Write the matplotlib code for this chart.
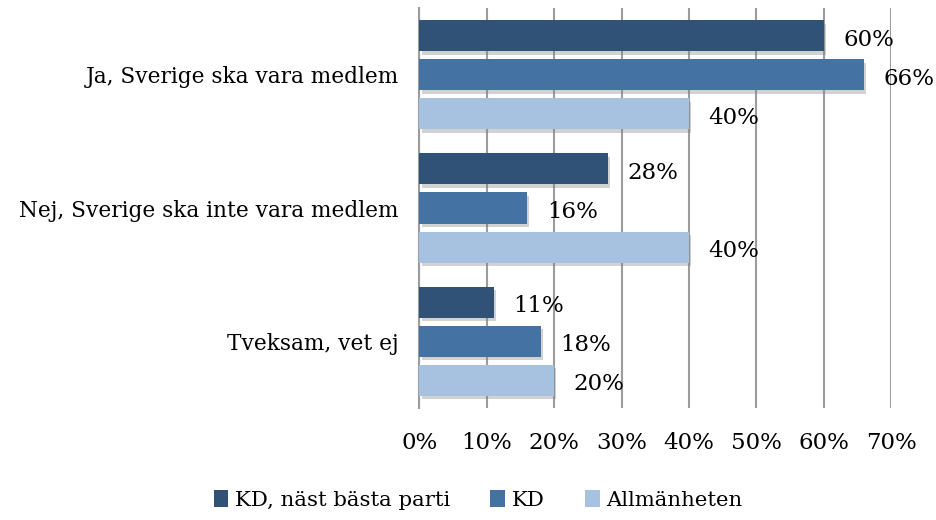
import numpy as np
import matplotlib
matplotlib.use('Agg')
import matplotlib.pyplot as plt
import matplotlib.patheffects as pe
from matplotlib.patches import Patch

plt.rcParams['font.family'] = ['DejaVu Serif']

FIGURE_XSIZE = 9.37
FIGURE_YSIZE = 5.2
GRID_RGB = '#9C9C9C'
LABEL_SIZE = 15.6
VALUE_SIZE = 16.5
LEGEND_SIZE = 15.3

categories = ['Ja, Sverige ska vara medlem',
              'Nej, Sverige ska inte vara medlem',
              'Tveksam, vet ej']
series_names = ['KD, näst bästa parti', 'KD', 'Allmänheten']
series_values = [[60, 28, 11],
                 [66, 16, 18],
                 [40, 40, 20]]
series_colors = ['#2F5276', '#4472A2', '#A7C1E0']
x_ticks = [0, 10, 20, 30, 40, 50, 60, 70]

figure = plt.figure(figsize=(FIGURE_XSIZE, FIGURE_YSIZE), dpi=100)
axes = figure.add_axes([419.5 / 937, 1 - 408 / 520, (891 - 419.5) / 937, 400 / 520])

bar_height = 0.233
step = 0.293
y_pos = np.arange(len(categories))
shadow = [pe.SimplePatchShadow(offset=(1.5, -2.5), shadow_rgbFace='#808080', alpha=0.35), pe.Normal()]

for i, (name, values, color) in enumerate(zip(series_names, series_values, series_colors)):
    ys = y_pos + (i - 1) * step
    bars = axes.barh(ys, values, height=bar_height, color=color, label=name, zorder=3)
    for b in bars:
        b.set_path_effects(shadow)
    for y, v in zip(ys, values):
        axes.text(v + 2.9, y + 0.03, '%d%%' % v, va='center', ha='left',
                  fontsize=VALUE_SIZE, zorder=4)

axes.set_xlim(0, 70)
axes.set_ylim(2.5, -0.5)
axes.set_xticks(x_ticks)
axes.set_xticklabels(['%d%%' % t for t in x_ticks], fontsize=VALUE_SIZE)
axes.set_yticks(y_pos)
axes.set_yticklabels(categories, fontsize=LABEL_SIZE)
axes.tick_params(axis='both', length=0)
axes.tick_params(axis='x', pad=17)
axes.tick_params(axis='y', pad=15)
axes.grid(axis='x', color=GRID_RGB, linewidth=1.5, zorder=0)
for side in ['top', 'right', 'bottom']:
    axes.spines[side].set_visible(False)
axes.spines['left'].set_color(GRID_RGB)
axes.spines['left'].set_linewidth(1.5)

handles = [Patch(facecolor=c, label=n) for n, c in zip(series_names, series_colors)]
figure.legend(handles=handles, loc='center', bbox_to_anchor=(478 / 937, 1 - 500 / 520),
              ncol=3, frameon=False, fontsize=LEGEND_SIZE, handlelength=0.7,
              handleheight=0.8, handletextpad=0.3, columnspacing=1.9)

figure.savefig('out.png', dpi=100)
